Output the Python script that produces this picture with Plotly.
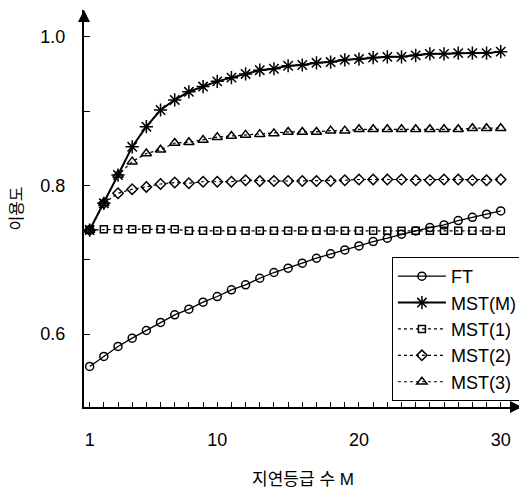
import plotly.graph_objects as go

M = list(range(1, 31))

ft = [0.5565, 0.570, 0.5834, 0.5946, 0.6049, 0.6157, 0.626, 0.6336, 0.643, 0.6506,
      0.6596, 0.6663, 0.6752, 0.6829, 0.6887, 0.6954, 0.7021, 0.708, 0.7133, 0.7187,
      0.7245, 0.729, 0.7344, 0.7389, 0.7433, 0.7469, 0.7527, 0.7572, 0.7613, 0.7657]
mst_m = [0.740, 0.776, 0.814, 0.852, 0.879, 0.9015, 0.915, 0.926, 0.933, 0.940,
         0.945, 0.950, 0.955, 0.957, 0.961, 0.962, 0.965, 0.966, 0.969, 0.970,
         0.972, 0.973, 0.973, 0.975, 0.977, 0.977, 0.978, 0.978, 0.978, 0.980]
mst_1 = [0.740, 0.741, 0.741, 0.741, 0.741, 0.741, 0.741, 0.739, 0.739, 0.739,
         0.739, 0.739, 0.739, 0.739, 0.739, 0.739, 0.739, 0.739, 0.739, 0.739,
         0.739, 0.739, 0.739, 0.739, 0.739, 0.739, 0.739, 0.739, 0.739, 0.739]
mst_2 = [0.740, 0.776, 0.7895, 0.795, 0.798, 0.802, 0.804, 0.803, 0.805, 0.805,
         0.805, 0.807, 0.806, 0.806, 0.806, 0.806, 0.806, 0.806, 0.807, 0.808,
         0.808, 0.808, 0.808, 0.807, 0.807, 0.808, 0.808, 0.807, 0.807, 0.808]
mst_3 = [0.740, 0.776, 0.814, 0.832, 0.843, 0.848, 0.857, 0.858, 0.861, 0.865,
         0.8665, 0.868, 0.869, 0.870, 0.872, 0.872, 0.872, 0.8737, 0.8737, 0.8755,
         0.8755, 0.8755, 0.8755, 0.8755, 0.8755, 0.8755, 0.8755, 0.877, 0.877, 0.877]

x_tick_vals = list(range(1, 31))
x_tick_labels = {1: "1", 10: "10", 20: "20", 30: "30"}
y_tick_vals = [0.6, 0.7, 0.8, 0.9, 1.0]
y_tick_text = ["0.6", "", "0.8", "", "1.0"]

FONT = "Liberation Sans, Arial, Noto Sans CJK KR"

fig = go.Figure()
series = [
    ("FT", ft, "solid", 1.3, "circle-open", 8),
    ("MST(M)", mst_m, "solid", 2.0, "asterisk-open", 11),
    ("MST(1)", mst_1, "dot", 1.2, "square-open", 7),
    ("MST(2)", mst_2, "dot", 1.2, "diamond-open", 8),
    ("MST(3)", mst_3, "dot", 1.2, "triangle-up-open", 9),
]
for name, vals, dash, lw, sym, ms in series:
    fig.add_trace(go.Scatter(
        x=M, y=vals, name=name, mode="lines+markers",
        line=dict(color="black", width=lw, dash=dash),
        marker=dict(symbol=sym, size=ms, color="black",
                    line=dict(color="black", width=1.5)),
    ))

# page body has an 8px margin, so the figure is drawn 8px in from the corner
fig.update_layout(
    width=519, height=481,
    margin=dict(l=76, r=5, t=2, b=82),
    paper_bgcolor="white", plot_bgcolor="white",
    font=dict(family=FONT, color="black", size=16),
    legend=dict(
        x=0.703, y=0.378, xanchor="left", yanchor="top",
        bgcolor="white", bordercolor="black", borderwidth=1,
        font=dict(size=18, family=FONT), itemwidth=48, tracegroupgap=0,
    ),
    xaxis=dict(
        range=[0.6, 31.5], showgrid=False, zeroline=False, automargin=False,
        showline=True, linecolor="black", linewidth=2,
        tickmode="array", tickvals=x_tick_vals,
        ticktext=[x_tick_labels.get(v, "") for v in x_tick_vals],
        ticks="inside", ticklen=5, tickwidth=1, tickcolor="black",
        tickfont=dict(size=18), ticklabelstandoff=15,
        title=dict(text="지연등급 수 M", font=dict(size=17), standoff=27),
    ),
    yaxis=dict(
        range=[0.502, 1.036], showgrid=False, zeroline=False, automargin=False,
        showline=True, linecolor="black", linewidth=2,
        tickmode="array", tickvals=y_tick_vals, ticktext=y_tick_text,
        ticks="inside", ticklen=6, tickwidth=1, tickcolor="black",
        tickfont=dict(size=18), ticklabelstandoff=13,
        title=dict(text="이용도", font=dict(size=16), standoff=19),
    ),
)

# arrowheads at axis ends
fig.add_annotation(x=1.0, y=0, xref="paper", yref="paper", ax=-12, ay=0,
                   showarrow=True, arrowhead=2, arrowsize=1.2, arrowwidth=2,
                   arrowcolor="black", text="")
fig.add_annotation(x=0, y=1.0, xref="paper", yref="paper", ax=0, ay=12,
                   showarrow=True, arrowhead=2, arrowsize=1.2, arrowwidth=2,
                   arrowcolor="black", text="")

fig.write_html("out.html")
